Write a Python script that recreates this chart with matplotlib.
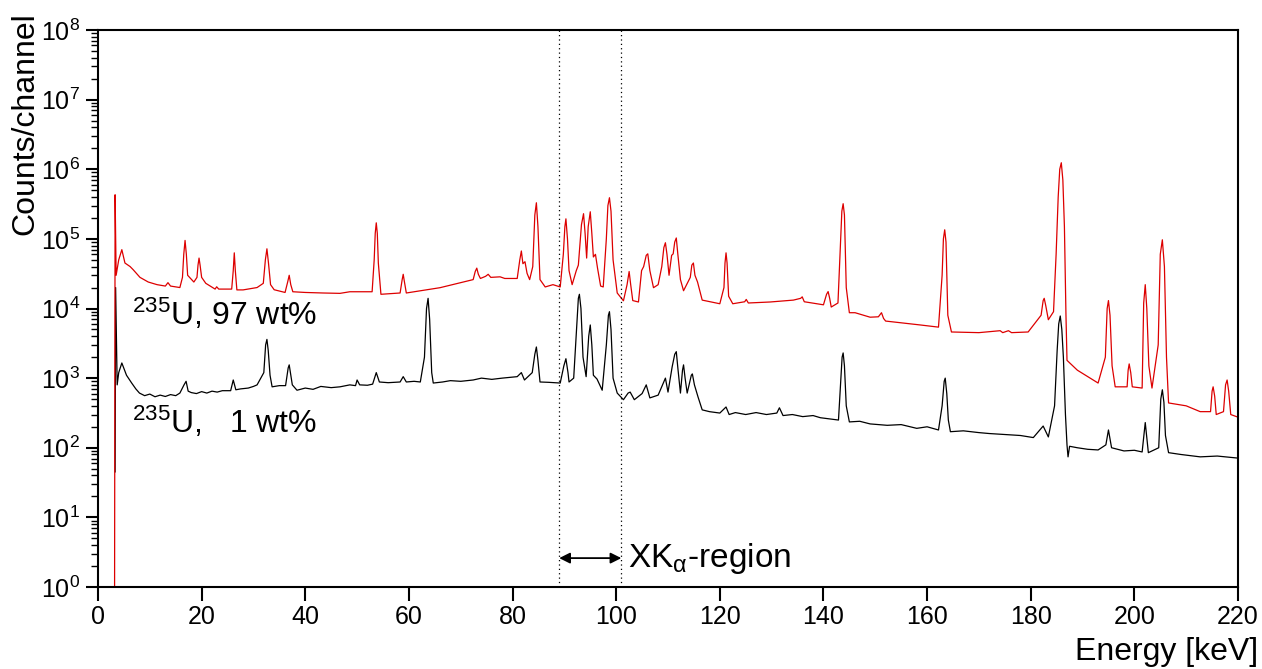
import numpy as np
import matplotlib
matplotlib.use("Agg")
import matplotlib.pyplot as plt
from matplotlib.ticker import FixedLocator, MultipleLocator, NullFormatter

plt.rcParams["font.family"] = ["Liberation Sans", "DejaVu Sans"]
plt.rcParams["mathtext.fontset"] = "custom"
plt.rcParams["mathtext.rm"] = "Liberation Sans"
plt.rcParams["mathtext.it"] = "Liberation Sans:italic"
plt.rcParams["mathtext.bf"] = "Liberation Sans:bold"

# ------------------------------------------------------------
# 97 wt% 235U spectrum (red)
# ------------------------------------------------------------
red_energy = [
    3.2, 3.3, 3.5, 4.0, 4.6, 5.2, 6.2, 6.8, 8.1, 9.7,
    11.4, 13.0, 13.5, 14.0, 15.8, 16.3, 16.55, 16.8, 17.05, 17.3,
    18.5, 19.1, 19.3, 19.5, 19.7, 20.0, 20.8, 22.6, 22.9, 23.3,
    25.8, 26.1, 26.3, 26.5, 26.8, 28.0, 30.7, 31.9, 32.3, 32.6,
    32.9, 33.3, 34.0, 36.1, 36.6, 36.9, 37.2, 37.6, 40.0, 43.4,
    46.7, 48.6, 52.9, 53.3, 53.5, 53.7, 53.9, 54.1, 54.6, 58.3,
    58.7, 58.9, 59.1, 59.5, 66.0, 72.4, 72.8, 73.1, 73.4, 73.8,
    74.8, 75.3, 75.8, 77.6, 78.5, 80.9, 81.4, 81.7, 82.0, 82.4,
    82.8, 83.3, 83.9, 84.3, 84.6, 84.9, 85.3, 86.3, 87.8, 89.2,
    89.8, 90.1, 90.3, 90.6, 90.9, 91.5, 92.3, 92.7, 93.3, 93.7,
    94.0, 94.3, 94.6, 95.0, 95.3, 95.6, 96.0, 96.4, 97.0, 97.5,
    98.1, 98.4, 98.7, 99.0, 99.4, 100.2, 101.4, 102.1, 102.5, 102.8,
    103.2, 104.3, 104.9, 105.3, 105.8, 106.1, 106.5, 107.2, 108.1, 108.8,
    109.2, 109.5, 109.8, 110.2, 110.7, 111.0, 111.3, 111.6, 111.9, 112.4,
    113.0, 114.3, 114.6, 114.9, 115.2, 115.7, 116.6, 120.0, 120.8, 121.0,
    121.2, 121.4, 121.7, 122.5, 124.8, 125.1, 125.5, 129.7, 134.2, 135.6,
    135.9, 136.3, 140.0, 140.6, 140.9, 141.2, 141.5, 142.8, 143.3, 143.55,
    143.8, 144.05, 144.4, 145.0, 146.1, 149.0, 150.6, 151.2, 151.6, 152.0,
    158.7, 162.2, 162.9, 163.15, 163.4, 163.65, 164.0, 164.7, 170.0, 174.1,
    174.6, 175.7, 176.3, 179.5, 182.0, 182.4, 182.6, 182.9, 183.4, 184.4,
    184.9, 185.3, 185.6, 185.9, 186.2, 186.5, 186.8, 187.0, 189.0, 191.0,
    193.0, 194.4, 194.75, 195.0, 195.3, 195.7, 196.3, 198.6, 198.8, 199.0,
    199.3, 199.6, 201.5, 201.8, 202.1, 202.4, 202.8, 203.4, 204.6, 205.0,
    205.4, 205.8, 206.2, 206.6, 210.0, 212.7, 214.7, 215.0, 215.2, 215.5,
    215.8, 217.2, 217.6, 217.9, 218.2, 218.6, 220.0,
]
red_counts = [
    1, 4.3e5, 3.0e4, 5.0e4, 7.0e4, 4.5e4, 4.0e4, 3.6e4, 2.8e4, 2.4e4,
    2.2e4, 2.1e4, 2.35e4, 2.1e4, 2.0e4, 2.8e4, 6.0e4, 9.5e4, 6.0e4, 3.0e4,
    2.4e4, 2.8e4, 4.2e4, 5.3e4, 4.2e4, 2.8e4, 2.3e4, 1.9e4, 2.05e4, 1.9e4,
    1.9e4, 3.5e4, 6.3e4, 3.5e4, 1.85e4, 1.85e4, 2.0e4, 2.3e4, 5.0e4, 7.2e4,
    4.5e4, 2.2e4, 1.86e4, 1.7e4, 2.4e4, 3.0e4, 2.2e4, 1.74e4, 1.7e4, 1.67e4,
    1.65e4, 1.74e4, 1.74e4, 5.0e4, 1.2e5, 1.7e5, 1.2e5, 4.5e4, 1.6e4, 1.67e4,
    2.6e4, 3.1e4, 2.5e4, 1.67e4, 1.99e4, 2.6e4, 3.4e4, 3.8e4, 3.1e4, 2.7e4,
    2.9e4, 3.1e4, 2.8e4, 2.85e4, 2.7e4, 2.7e4, 5.0e4, 6.7e4, 4.4e4, 4.7e4,
    3.2e4, 2.6e4, 4.0e4, 2.2e5, 3.3e5, 1.5e5, 2.6e4, 2.04e4, 2.2e4, 2.04e4,
    6.0e4, 1.5e5, 1.94e5, 1.0e5, 3.5e4, 2.2e4, 3.5e4, 4.2e4, 1.6e5, 2.3e5,
    1.2e5, 5.3e4, 1.5e5, 2.45e5, 1.2e5, 5.5e4, 6.0e4, 3.8e4, 2.1e4, 2.04e4,
    1.0e5, 3.0e5, 3.9e5, 2.5e5, 5.0e4, 1.67e4, 1.29e4, 2.2e4, 3.4e4, 2.2e4,
    1.3e4, 1.24e4, 3.5e4, 4.0e4, 5.8e4, 6.1e4, 3.5e4, 1.99e4, 2.2e4, 4.0e4,
    7.5e4, 8.8e4, 6.0e4, 3.0e4, 5.8e4, 6.1e4, 9.0e4, 1.03e5, 6.0e4, 2.6e4,
    1.8e4, 2.8e4, 4.2e4, 4.5e4, 3.0e4, 2.4e4, 1.32e4, 1.17e4, 2.0e4, 4.5e4,
    6.3e4, 4.5e4, 1.5e4, 1.17e4, 1.25e4, 1.35e4, 1.2e4, 1.24e4, 1.32e4, 1.4e4,
    1.47e4, 1.25e4, 1.13e4, 1.6e4, 1.75e4, 1.4e4, 1.05e4, 1.2e4, 9.0e4, 2.5e5,
    3.2e5, 2.2e5, 2.0e4, 8.7e3, 8.7e3, 7.5e3, 7.6e3, 8.7e3, 7.2e3, 6.6e3,
    5.8e3, 5.4e3, 3.0e4, 1.0e5, 1.35e5, 9.0e4, 8.0e3, 4.6e3, 4.5e3, 4.8e3,
    4.5e3, 4.8e3, 4.5e3, 4.6e3, 8.0e3, 1.3e4, 1.4e4, 1.1e4, 6.9e3, 9.0e3,
    6.0e4, 4.0e5, 1.0e6, 1.24e6, 7.0e5, 1.5e5, 8.0e3, 1.8e3, 1.3e3, 1.05e3,
    850, 2.0e3, 1.0e4, 1.3e4, 8.0e3, 1.5e3, 750, 750, 1.3e3, 1.6e3,
    1.2e3, 750, 720, 1.2e4, 2.2e4, 1.0e4, 1.5e3, 720, 3.0e3, 6.0e4,
    9.7e4, 4.0e4, 2.0e3, 440, 400, 330, 330, 650, 750, 550,
    300, 330, 800, 940, 650, 300, 275,
]

# ------------------------------------------------------------
# 1 wt% 235U spectrum (black)
# ------------------------------------------------------------
black_energy = [
    3.3, 3.4, 3.7, 4.0, 4.6, 5.5, 6.5, 7.3, 8.0, 9.0,
    10.0, 11.0, 12.0, 13.0, 14.0, 15.0, 15.8, 16.6, 17.0, 17.4,
    18.0, 19.0, 20.0, 21.0, 22.0, 23.0, 24.0, 25.6, 26.1, 26.6,
    27.5, 29.0, 30.0, 30.7, 32.0, 32.35, 32.6, 32.85, 33.2, 33.6,
    35.0, 36.2, 36.7, 36.9, 37.2, 37.5, 38.4, 40.0, 41.5, 43.0,
    45.0, 46.7, 48.6, 49.7, 50.0, 50.5, 52.0, 53.0, 53.7, 54.3,
    56.0, 58.3, 58.9, 59.5, 61.0, 62.2, 63.0, 63.4, 63.7, 64.0,
    64.4, 64.7, 66.5, 68.0, 70.0, 72.4, 74.0, 76.0, 78.0, 80.9,
    81.7, 82.3, 83.8, 84.3, 84.6, 84.9, 85.3, 87.0, 89.2, 89.9,
    90.3, 90.7, 90.9, 91.8, 92.4, 92.7, 92.9, 93.2, 93.6, 94.2,
    94.7, 95.0, 95.3, 95.6, 96.3, 97.3, 98.1, 98.5, 98.7, 99.0,
    99.4, 100.2, 101.4, 102.3, 102.7, 103.5, 105.0, 105.8, 106.5, 108.1,
    109.5, 110.0, 110.8, 111.3, 111.6, 111.9, 112.4, 112.8, 113.0, 113.3,
    113.7, 114.5, 114.7, 115.1, 115.8, 116.6, 118.0, 120.0, 121.2, 121.8,
    123.0, 125.0, 127.0, 129.0, 131.0, 131.5, 132.2, 134.0, 136.0, 138.0,
    139.4, 142.9, 143.3, 143.6, 143.8, 144.05, 144.4, 145.0, 147.0, 149.0,
    152.3, 155.0, 158.0, 160.0, 162.2, 162.9, 163.3, 163.5, 163.8, 164.1,
    164.5, 167.0, 170.0, 172.0, 175.0, 178.0, 180.5, 182.4, 183.4, 184.6,
    185.1, 185.4, 185.7, 186.0, 186.3, 186.7, 187.0, 187.2, 187.5, 189.0,
    191.0, 193.0, 194.5, 195.0, 195.6, 198.0, 200.0, 201.5, 202.1, 202.7,
    204.7, 205.1, 205.4, 205.7, 206.0, 206.6, 209.0, 212.7, 216.0, 220.0,
]
black_counts = [
    45, 2.0e4, 800, 1.2e3, 1.65e3, 1.1e3, 850, 700, 610, 560,
    590, 540, 570, 545, 580, 560, 610, 800, 900, 650,
    620, 600, 640, 610, 650, 630, 660, 660, 940, 680,
    700, 720, 760, 800, 1.2e3, 3.0e3, 3.6e3, 2.5e3, 1.1e3, 750,
    780, 780, 1.4e3, 1.55e3, 1.1e3, 800, 670, 720, 690, 760,
    730, 750, 800, 780, 940, 800, 790, 820, 1.2e3, 880,
    860, 880, 1.05e3, 880, 900, 880, 2.0e3, 1.0e4, 1.4e4, 7.0e3,
    1.2e3, 850, 880, 920, 900, 940, 1.0e3, 960, 1.0e3, 1.05e3,
    1.2e3, 940, 1.2e3, 2.2e3, 2.8e3, 1.8e3, 880, 870, 850, 1.5e3,
    1.9e3, 1.2e3, 880, 1.0e3, 6.0e3, 1.4e4, 1.6e4, 1.0e4, 2.0e3, 1.05e3,
    4.0e3, 5.8e3, 3.0e3, 1.1e3, 970, 670, 3.0e3, 8.0e3, 9.0e3, 5.0e3,
    1.0e3, 610, 490, 610, 630, 490, 600, 800, 520, 570,
    1.0e3, 630, 1.45e3, 2.2e3, 2.4e3, 1.4e3, 610, 1.3e3, 1.55e3, 1.0e3,
    610, 1.1e3, 1.15e3, 800, 535, 350, 330, 315, 385, 300,
    320, 300, 320, 300, 315, 375, 290, 300, 280, 290,
    270, 250, 800, 2.0e3, 2.3e3, 1.5e3, 400, 235, 240, 220,
    210, 215, 190, 200, 180, 400, 900, 1.0e3, 600, 250,
    170, 175, 165, 160, 155, 150, 140, 205, 143, 400,
    2.5e3, 6.0e3, 7.8e3, 5.0e3, 2.0e3, 300, 110, 74, 105, 100,
    95, 93, 110, 180, 100, 90, 92, 87, 230, 85,
    100, 500, 680, 450, 150, 85, 80, 74, 76, 71,
]

xka_low, xka_high = 89.0, 101.0
y_decades = [1e0, 1e1, 1e2, 1e3, 1e4, 1e5, 1e6, 1e7, 1e8]


fig = plt.figure(figsize=(12.62, 6.69), dpi=100)
ax = fig.add_axes([98 / 1262, 1 - 587 / 669, (1238 - 98) / 1262, (587 - 30) / 669])

ax.plot(black_energy, black_counts, color="black", lw=0.9)
ax.plot(red_energy, red_counts, color="#dd0000", lw=0.9)

ax.axvline(xka_low, color="black", lw=0.9, ls=(0, (1, 2.5)))
ax.axvline(xka_high, color="black", lw=0.9, ls=(0, (1, 2.5)))

ax.annotate("", xy=(xka_low, 2.6), xytext=(xka_high, 2.6),
            arrowprops=dict(arrowstyle="<|-|>", color="black", lw=1.3,
                            mutation_scale=16, shrinkA=0, shrinkB=0))
ax.text(102.3, 2.6, r"XK$_{\mathrm{α}}$-region", fontsize=24, va="center", ha="left")

ax.text(6.5, 5.8e3, r"$^{235}$U, 97 wt%", fontsize=23, va="baseline", ha="left")
ax.text(6.5, 163, r"$^{235}$U,   1 wt%", fontsize=23, va="baseline", ha="left")

ax.set_yscale("log")
ax.set_xlim(0, 220)
ax.set_ylim(1, 1e8)
ax.xaxis.set_major_locator(MultipleLocator(20))
ax.yaxis.set_major_locator(FixedLocator(y_decades))
minor = [m * d for d in y_decades[:-1] for m in range(2, 10)]
ax.yaxis.set_minor_locator(FixedLocator(minor))
ax.yaxis.set_minor_formatter(NullFormatter())

ax.tick_params(axis="x", which="major", direction="out", length=10, width=1.5,
               labelsize=18, pad=3)
ax.tick_params(axis="y", which="major", direction="out", length=9, width=1.5,
               labelsize=18, pad=4)
ax.tick_params(axis="y", which="minor", direction="out", length=5, width=1.0)
for sp in ax.spines.values():
    sp.set_linewidth(1.5)

fig.text(1258 / 1262, 1 - 660 / 669, "Energy [keV]", fontsize=23, ha="right", va="baseline")
fig.text(25 / 1262, 1 - 12 / 669, "Counts/channel", fontsize=23, rotation=90,
         ha="center", va="top")

fig.savefig("out.png", dpi=100)
